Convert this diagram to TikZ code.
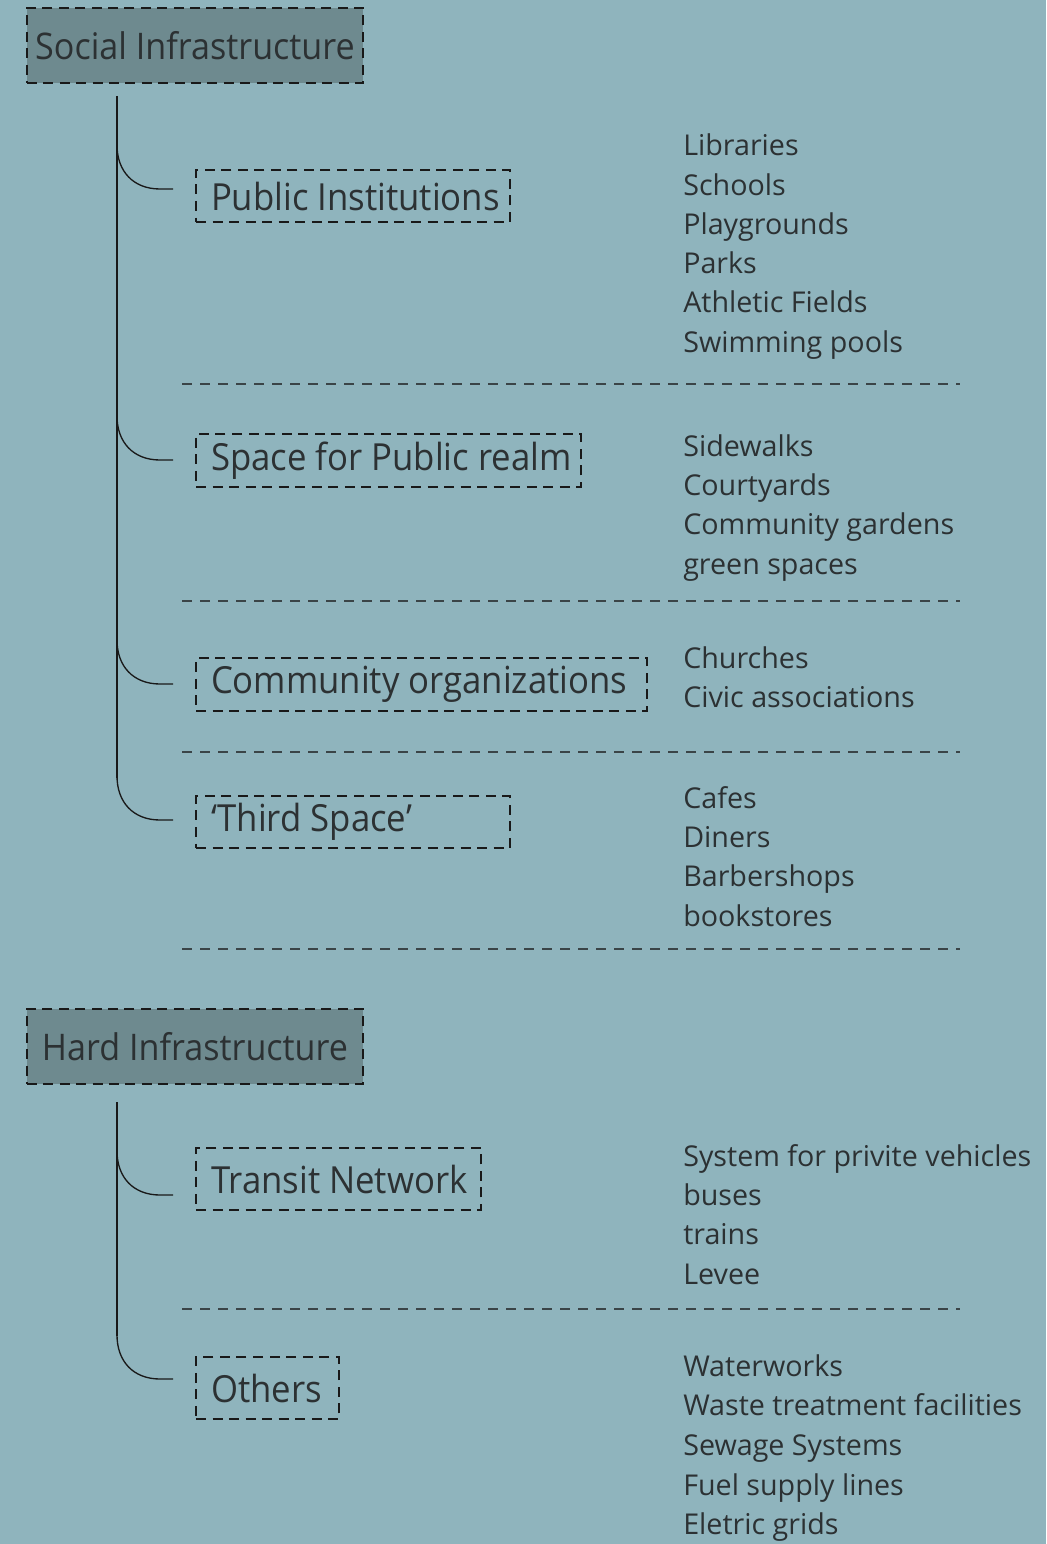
\documentclass[tikz,border=0pt]{standalone}
\usepackage{fontspec}
\setmainfont{Open Sans}
\usetikzlibrary{calc}

\newdimen\pxu \pxu=0.75pt

\definecolor{bgcol}{RGB}{143,180,189}
\definecolor{headfill}{RGB}{110,138,143}
\definecolor{inkcol}{RGB}{44,49,51}
\definecolor{rulecol}{RGB}{58,68,71}

\tikzset{
  headbox/.style={draw=black!90, fill=headfill, line width=1.7pt,
    dash pattern=on 7.5pt off 4.8pt, minimum width=252pt, minimum height=56.25pt,
    inner sep=0pt, font=\fontsize{27.5pt}{32pt}\selectfont, text=inkcol},
  catbox/.style={draw=black!90, line width=1.6pt, dash pattern=on 7.5pt off 4.9pt,
    anchor=north west, inner sep=0pt, font=\fontsize{28pt}{32pt}\selectfont, text=inkcol},
  item/.style={anchor=base west, inner sep=0pt, text=inkcol,
    font=\fontsize{21.5pt}{26pt}\selectfont},
  link/.style={draw=black!90, line width=1pt},
  sepline/.style={draw=rulecol, line width=1.2pt, dash pattern=on 7.5pt off 6pt}
}

% slightly condensed label text
\newcommand{\narrow}[1]{\scalebox{0.93}[1]{#1}}

% a category box: name, top-left corner, width, height, label
\newcommand{\catnode}[5]{%
  \node[catbox, minimum width=#3\pxu, minimum height=#4\pxu] (#1) at (#2)
    {\makebox[#3\pxu][l]{\hspace{15\pxu}\narrow{#5}}};}

\begin{document}
\begin{tikzpicture}[x=1\pxu, y=-1\pxu]
  \fill[bgcol] (0,0) rectangle (1046,1544);
  \useasboundingbox (0,0) rectangle (1046,1544);

  % ---- Social infrastructure -------------------------------------------
  \node[headbox] (social) at (195,45.5) {\narrow{Social Infrastructure}};
  \coordinate (socialTrunk) at (117,96);

  \catnode{pubinst}{195,169}{314}{52}{Public Institutions}
  \catnode{pubrealm}{195,433}{385}{53}{Space for Public realm}
  \catnode{commorg}{195,657}{451}{53}{Community organizations}
  \catnode{third}{195,795}{314}{52}{`Third Space'}

  \draw[link] (socialTrunk) -- (117,778);
  \foreach \n/\y in {pubinst/189, pubrealm/460, commorg/684, third/820}{
    \draw[link] ([xshift=-22\pxu]\n.west |- 0,\y) -- (160,\y)
      .. controls (133,\y) and (117,\y-18) .. (117,\y-44);
  }

  \foreach \t [count=\i] in {Libraries, Schools, Playgrounds, Parks,
      Athletic Fields, Swimming pools}
    \node[item] (pubinst-\i) at (683,{156+39.2*(\i-1)}) {\t};
  \foreach \t [count=\i] in {Sidewalks, Courtyards, Community gardens,
      green spaces}
    \node[item] (pubrealm-\i) at (683,{456+39.4*(\i-1)}) {\t};
  \foreach \t [count=\i] in {Churches, Civic associations}
    \node[item] (commorg-\i) at (683,{668+39.4*(\i-1)}) {\t};
  \foreach \t [count=\i] in {Cafes, Diners, Barbershops, bookstores}
    \node[item] (third-\i) at (683,{808+39.4*(\i-1)}) {\t};

  \foreach \y [count=\i] in {384, 601, 752, 949}{
    \coordinate (sepA\i) at (182,\y);
    \coordinate (sepB\i) at (960,\y);
    \draw[sepline] (sepA\i) -- (sepB\i);
  }

  % ---- Hard infrastructure ---------------------------------------------
  \node[headbox] (hard) at (195,1046.5) {\narrow{Hard Infrastructure}};
  \coordinate (hardTrunk) at (117,1102);

  \catnode{transit}{195,1147}{285}{62}{Transit Network}
  \catnode{others}{195,1356}{143}{62}{Others}

  \draw[link] (hardTrunk) -- (117,1336);
  \foreach \n/\y in {transit/1195, others/1379}{
    \draw[link] ([xshift=-22\pxu]\n.west |- 0,\y) -- (160,\y)
      .. controls (133,\y) and (117,\y-18) .. (117,\y-44);
  }

  \foreach \t [count=\i] in {System for privite vehicles, buses, trains, Levee}
    \node[item] (transit-\i) at (683,{1166+39.4*(\i-1)}) {\t};
  \foreach \t [count=\i] in {Waterworks, Waste treatment facilities,
      Sewage Systems, Fuel supply lines, Eletric grids}
    \node[item] (others-\i) at (683,{1376+39.7*(\i-1)}) {\t};

  \coordinate (sepA5) at (182,1309);
  \coordinate (sepB5) at (960,1309);
  \draw[sepline] (sepA5) -- (sepB5);
\end{tikzpicture}
\end{document}
